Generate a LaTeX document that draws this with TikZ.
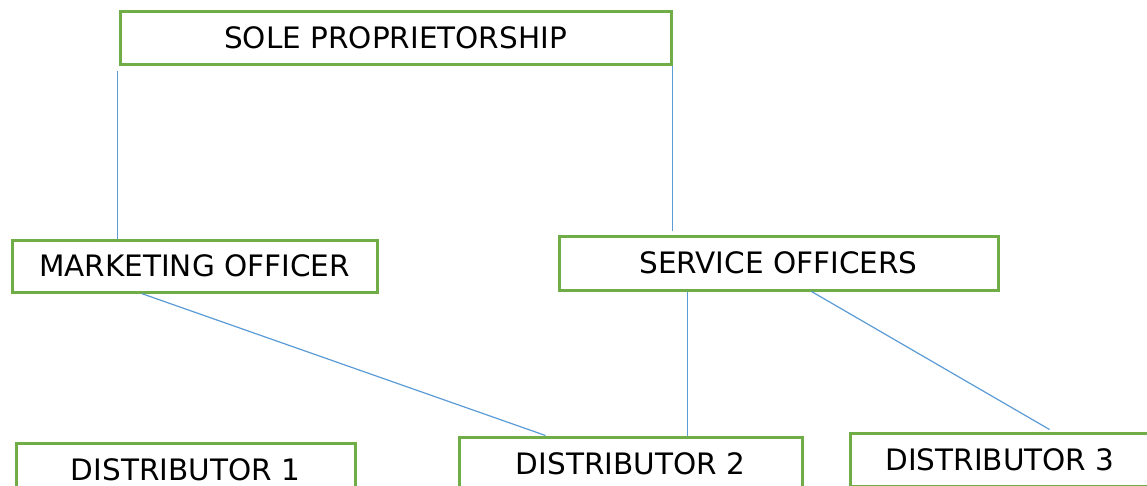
\documentclass[tikz,border=0pt]{standalone}
\usepackage{fontspec}
\setmainfont{DejaVu Sans}
\usepackage{tikz}
\usetikzlibrary{calc}
\definecolor{boxgreen}{HTML}{70AD47}
\definecolor{linkblue}{HTML}{5B9BD5}

\begin{document}
\begin{tikzpicture}[
  x=1pt, y=-1pt,
  b/.style={draw=boxgreen, line width=3pt, fill=white, inner sep=0pt,
            minimum height=53pt, font=\fontsize{29.5}{34}\selectfont},
  ln/.style={draw=linkblue, line width=1.2pt}]
\useasboundingbox (0,0) rectangle (1147,485);
\clip (0,0) rectangle (1147,485);
\node[b, minimum width=551pt] (sole) at (395.5,37.5) {SOLE PROPRIETORSHIP};
\node[b, minimum width=365pt, minimum height=52pt] (mkt) at (194.5,266) {MARKETING OFFICER};
\node[b, minimum width=439pt, minimum height=54pt] (svc) at (778.5,263) {SERVICE OFFICERS};
\node[b, minimum width=339pt] (dist1) at (185.5,469.5) {DISTRIBUTOR 1};
\node[b, minimum width=343pt] (dist2) at (630.5,463.5) {DISTRIBUTOR 2};
\node[b, minimum width=300pt] (dist3) at (1000,459.5) {DISTRIBUTOR 3};
% links
\draw[ln] ([shift={(-1,5)}]sole.south west) -- ([xshift=-1pt]sole.south west |- mkt.north);
\draw[ln] (sole.south east) -- ([yshift=4pt]sole.south east |- svc.north);
\draw[ln] ([xshift=131pt]mkt.south west) -- ([xshift=88pt]dist2.north west);
\draw[ln] ([xshift=130pt]svc.south west) -- ([xshift=230pt]dist2.north west);
\draw[ln] ([xshift=254pt]svc.south west) -- ([xshift=201pt,yshift=2pt]dist3.north west);
\end{tikzpicture}
\end{document}
